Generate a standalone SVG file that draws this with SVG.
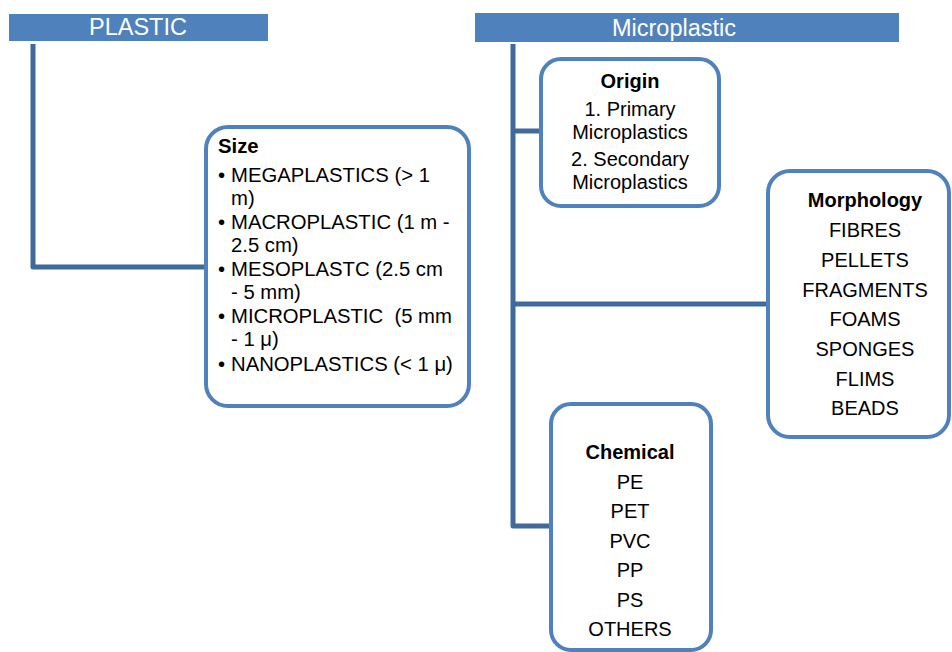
<svg xmlns="http://www.w3.org/2000/svg" width="952" height="652" viewBox="0 0 952 652">
<style>
.bar{fill:#4f81bd}
.bt{fill:#ffffff;font-family:"Liberation Sans",Arial,sans-serif;font-size:23.5px;text-anchor:middle}
.box{fill:#ffffff;stroke:#4f81bd;stroke-width:4}
.t{fill:#000000;font-family:"Liberation Sans",Arial,sans-serif;font-size:20px}
.s{font-size:20.3px}
.c{text-anchor:middle}
.b{font-weight:bold}
.con{fill:none;stroke:#3f6a9e;stroke-width:5;stroke-linejoin:round}
</style>
<rect width="952" height="652" fill="#ffffff"/>
<g id="connectors">
<path class="con" d="M33 44 V267 H206"/>
<path class="con" d="M513 44 V526 H551"/>
<path class="con" d="M513 131 H541"/>
<path class="con" d="M513 304 H768"/>
</g>
<g id="plastic">
<rect class="bar" x="9" y="14" width="259" height="27"/>
<text class="bt" x="138" y="35">PLASTIC</text>
</g>
<g id="microplastic">
<rect class="bar" x="475" y="13" width="424" height="29"/>
<text class="bt" x="674" y="36">Microplastic</text>
</g>
<g id="size">
<rect class="box" x="206" y="127" width="263" height="279" rx="22"/>
<text class="t b s" x="218" y="153">Size</text>
<text class="t s" x="218" y="182">•<tspan x="231">MEGAPLASTICS (&gt; 1</tspan><tspan x="231" y="204.8">m)</tspan></text>
<text class="t s" x="218" y="229">•<tspan x="231">MACROPLASTIC (1 m -</tspan><tspan x="231" y="251.8">2.5 cm)</tspan></text>
<text class="t s" x="218" y="276">•<tspan x="231">MESOPLASTC (2.5 cm</tspan><tspan x="231" y="298.8">- 5 mm)</tspan></text>
<text class="t s" x="218" y="323" xml:space="preserve">•<tspan x="231">MICROPLASTIC  (5 mm</tspan><tspan x="231" y="345.8">- 1 μ)</tspan></text>
<text class="t s" x="218" y="371">•<tspan x="231">NANOPLASTICS (&lt; 1 μ)</tspan></text>
</g>
<g id="origin">
<rect class="box" x="541" y="59" width="178" height="147" rx="20"/>
<text class="t b c" x="630" y="88">Origin</text>
<text class="t c" x="630" y="116">1. Primary<tspan x="630" y="138.5">Microplastics</tspan></text>
<text class="t c" x="630" y="166">2. Secondary<tspan x="630" y="188.5">Microplastics</tspan></text>
</g>
<g id="morphology">
<rect class="box" x="768" y="171" width="181" height="266" rx="22"/>
<text class="t b c" x="865" y="207">Morphology</text>
<text class="t c" x="865" y="237">FIBRES</text>
<text class="t c" x="865" y="267">PELLETS</text>
<text class="t c" x="865" y="297">FRAGMENTS</text>
<text class="t c" x="865" y="326">FOAMS</text>
<text class="t c" x="865" y="356">SPONGES</text>
<text class="t c" x="865" y="386">FLIMS</text>
<text class="t c" x="865" y="415">BEADS</text>
</g>
<g id="chemical">
<rect class="box" x="551" y="404" width="160" height="246" rx="20"/>
<text class="t b c" x="630" y="459">Chemical</text>
<text class="t c" x="630" y="489">PE</text>
<text class="t c" x="630" y="518">PET</text>
<text class="t c" x="630" y="548">PVC</text>
<text class="t c" x="630" y="577">PP</text>
<text class="t c" x="630" y="607">PS</text>
<text class="t c" x="630" y="636">OTHERS</text>
</g>
</svg>
